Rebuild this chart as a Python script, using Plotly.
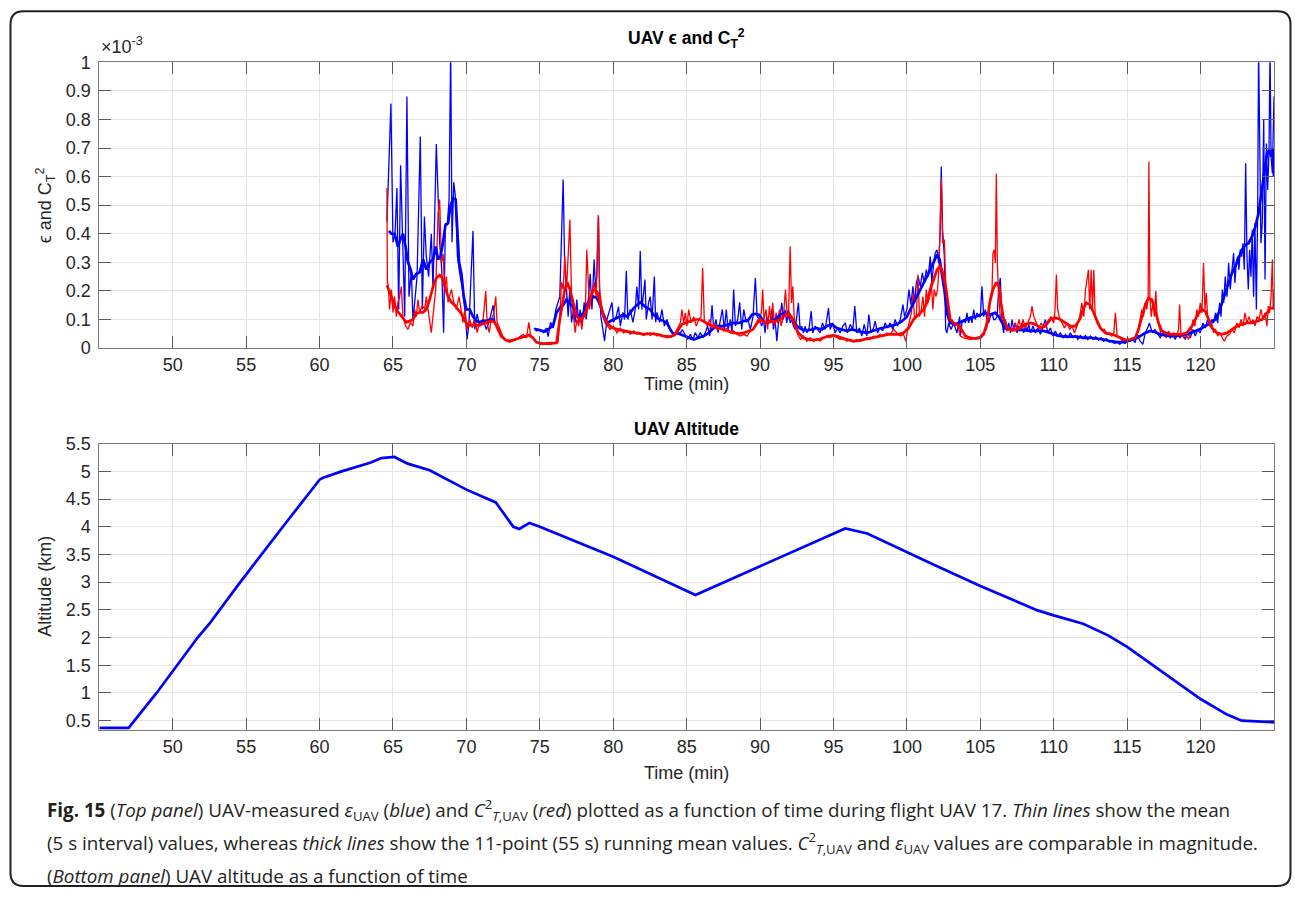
import plotly.graph_objects as go

# ---------------- data ----------------
# epsilon (blue), thin 5-s values, units of 1e-3
eps_thin_t = [64.59, 64.86, 65.0, 65.14, 65.27, 65.39, 65.52, 65.68, 65.8, 65.95, 66.09, 66.25, 66.36, 66.48, 66.64,
              66.86, 67.0, 67.14, 67.27, 67.43, 67.61, 67.73, 67.95, 68.07, 68.18, 68.32, 68.45, 68.57, 68.7, 68.82,
              68.93, 69.02, 69.14, 69.25, 69.39, 69.55, 69.73, 69.89, 70.05, 70.18, 70.45, 70.57, 70.73, 70.91, 71.14,
              71.36, 71.59, 71.82, 71.93, None,
              74.61, 74.77, 75.0, 75.23, 75.45, 75.57, 75.73, 75.91, 76.09, 76.25, 76.36, 76.59, 76.7, 76.82, 76.93,
              77.05, 77.16, 77.3, 77.41, 77.52, 77.64, 77.75, 77.86, 78.02, 78.16, 78.32, 78.43, 78.55, 78.7, 78.8,
              78.89, 79.0, 79.07, 79.16, 79.27, 79.41, 79.57, 79.75, 79.91, 80.02, 80.2, 80.36, 80.48, 80.66, 80.77,
              80.89, 81.0, 81.16, 81.34, 81.5, 81.61, 81.73, 81.84, 81.95, 82.07, 82.16, 82.25, 82.41, 82.52, 82.64,
              82.8, 82.89, 82.98, 83.16, 83.32, 83.48, 83.66, 83.84, 84.0, 84.16, 84.34, 84.52, 84.7, 84.91, 85.07,
              85.25, 85.43, 85.59, 85.75, 85.93, 86.11, 86.27, 86.43, 86.57, 86.73, 86.84, 87.0, 87.14, 87.3, 87.43,
              87.57, 87.7, 87.82, 87.98, 88.09, 88.2, 88.32, 88.48, 88.61, 88.75, 88.89, 89.05, 89.18, 89.34, 89.52,
              89.68, 89.8, 89.98, 90.11, 90.23, 90.34, 90.45, 90.57, 90.68, 90.8, 90.91, 91.02, 91.14, 91.25, 91.36,
              91.48, 91.59, 91.7, 91.82, 91.93, 92.05, 92.16, 92.27, 92.39, 92.5, 92.61, 92.73, 92.84, 92.95, 93.07,
              93.18, 93.34, 93.48, 93.59, 93.75, 93.91, 94.09, 94.25, 94.43, 94.66, 94.77, 94.95, 95.11, 95.27, 95.45,
              95.64, 95.8, 95.95, 96.14, 96.32, 96.45, 96.59, 96.77, 96.93, 97.09, 97.27, 97.41, 97.55, 97.73, 97.84,
              98.0, 98.18, 98.36, 98.52, 98.68, 98.86, 99.05, 99.2, 99.36, 99.55, 99.73, 99.84, 100.0, 100.14, 100.27,
              100.41, 100.52, 100.64, 100.77, 100.91, 101.05, 101.18, 101.32, 101.45, 101.59, 101.7, 101.82, 101.93,
              102.05, 102.16, 102.27, 102.34, 102.43, 102.55, 102.64, 102.73, 102.84, 103.0, 103.18, 103.41, 103.59,
              103.64, 103.75, 103.86, 103.98, 104.09, 104.2, 104.32, 104.43, 104.55, 104.66, 104.77, 104.89, 105.0,
              105.11, 105.23, 105.34, 105.45, 105.57, 105.68, 105.8, 105.91, 106.02, 106.14, 106.25, 106.36, 106.48,
              106.59, 106.7, 106.82, 106.93, 107.05, 107.16, 107.27, 107.39, 107.5, 107.61, 107.73, 107.84, 107.95,
              108.07, 108.18, 108.3, 108.41, 108.59, 108.75, 108.91, 109.09, 109.27, 109.43, 109.59, 109.77, 109.95,
              110.11, 110.27, 110.45, 110.64, 110.8, 110.95, 111.14, 111.32, 111.48, 111.64, 111.82, 112.0, 112.16,
              112.32, 112.5, 112.68, 112.86, 113.05, 113.23, 113.41, 113.59, 113.77, 113.95, 114.14, 114.32, 114.5,
              114.68, 114.86, 115.05, 115.2, 115.39, 115.55, 115.66, 115.77, 115.89, 116.07, 116.23, 116.39, 116.52,
              116.61, 116.75, 116.89, 117.05, 117.25, 117.43, 117.59, 117.75, 117.93, 118.11, 118.27, 118.43, 118.61,
              118.8, 118.95, 119.11, 119.3, 119.48, 119.64, 119.8, 119.98, 120.16, 120.32, 120.48, 120.61, 120.75,
              120.89, 121.02, 121.16, 121.3, 121.39, 121.48, 121.57, 121.68, 121.8, 121.91, 122.02, 122.14, 122.25,
              122.34, 122.43, 122.52, 122.61, 122.7, 122.8, 122.89, 122.98, 123.07, 123.16, 123.25, 123.34, 123.43,
              123.52, 123.61, 123.7, 123.8, 123.89, 123.95, 124.02, 124.11, 124.2, 124.3, 124.39, 124.48, 124.57,
              124.66, 124.73, 124.8, 124.89, 124.95, 125.0]
eps_thin_v = [0.443, 0.856, 0.37, 0.40, 0.56, 0.135, 0.64, 0.32, 0.11, 0.88, 0.18, 0.27, 0.10, 0.16, 0.25,
              0.74, 0.135, 0.46, 0.32, 0.25, 0.40, 0.205, 0.714, 0.54, 0.367, 0.275, 0.054, 0.437, 0.43, 0.52,
              1.05, 0.37, 0.58, 0.53, 0.32, 0.26, 0.205, 0.135, 0.03, 0.09, 0.41, 0.065, 0.12, 0.077, 0.10,
              0.065, 0.10, 0.15, 0.09, None,
              0.07, 0.06, 0.065, 0.054, 0.07, 0.04, 0.09, 0.07, 0.135, 0.16, 0.18, 0.59, 0.275, 0.205, 0.11,
              0.215, 0.09, 0.135, 0.09, 0.17, 0.09, 0.135, 0.077, 0.16, 0.10, 0.18, 0.26, 0.135, 0.31, 0.205,
              0.26, 0.46, 0.205, 0.11, 0.065, 0.025, 0.10, 0.135, 0.16, 0.09, 0.11, 0.145, 0.077, 0.125, 0.10,
              0.27, 0.10, 0.135, 0.09, 0.135, 0.215, 0.135, 0.34, 0.135, 0.205, 0.24, 0.10, 0.16, 0.18, 0.10,
              0.25, 0.09, 0.125, 0.09, 0.135, 0.077, 0.10, 0.065, 0.054, 0.042, 0.065, 0.048, 0.065, 0.042, 0.03,
              0.048, 0.03, 0.054, 0.036, 0.054, 0.036, 0.054, 0.077, 0.042, 0.15, 0.065, 0.10, 0.054, 0.10, 0.135,
              0.065, 0.135, 0.065, 0.10, 0.054, 0.205, 0.077, 0.10, 0.16, 0.065, 0.135, 0.09, 0.10, 0.065, 0.11,
              0.245, 0.11, 0.10, 0.077, 0.10, 0.053, 0.11, 0.088, 0.088, 0.135, 0.065, 0.10, 0.024, 0.088, 0.11,
              0.158, 0.10, 0.135, 0.088, 0.135, 0.088, 0.10, 0.077, 0.065, 0.11, 0.158, 0.065, 0.077, 0.053, 0.077,
              0.053, 0.07, 0.129, 0.053, 0.077, 0.065, 0.053, 0.088, 0.065, 0.14, 0.065, 0.088, 0.053, 0.07, 0.053,
              0.077, 0.088, 0.053, 0.083, 0.065, 0.147, 0.053, 0.07, 0.042, 0.083, 0.042, 0.117, 0.053, 0.07, 0.094,
              0.053, 0.07, 0.06, 0.088, 0.07, 0.088, 0.065, 0.10, 0.077, 0.10, 0.152, 0.11, 0.135, 0.205, 0.152,
              0.216, 0.158, 0.228, 0.25, 0.216, 0.263, 0.228, 0.274, 0.25, 0.32, 0.228, 0.298, 0.332,
              0.344, 0.298, 0.414, 0.635, 0.414, 0.32, 0.065, 0.053, 0.088, 0.065, 0.088, 0.053, 0.11,
              0.042, 0.088, 0.10, 0.088, 0.123, 0.088, 0.11, 0.088, 0.135, 0.10, 0.123, 0.11, 0.11,
              0.216, 0.11, 0.135, 0.10, 0.088, 0.11, 0.123, 0.10, 0.10, 0.11, 0.205, 0.245, 0.088,
              0.053, 0.10, 0.065, 0.088, 0.053, 0.10, 0.065, 0.088, 0.053, 0.077, 0.06, 0.088, 0.053,
              0.077, 0.06, 0.083, 0.053, 0.077, 0.053, 0.07, 0.048, 0.077, 0.10, 0.053, 0.07, 0.042,
              0.06, 0.042, 0.053, 0.036, 0.048, 0.036, 0.053, 0.036, 0.044, 0.03, 0.044, 0.033, 0.044,
              0.03, 0.042, 0.03, 0.04, 0.028, 0.036, 0.024, 0.033, 0.021, 0.024, 0.016, 0.021, 0.013,
              0.024, 0.016, 0.024, 0.024, 0.03, 0.019, 0.053, 0.036, 0.024, 0.013, 0.053, 0.07, 0.088,
              0.07, 0.053, 0.065, 0.053, 0.036, 0.053, 0.042, 0.053, 0.036, 0.048, 0.03, 0.048, 0.036,
              0.053, 0.03, 0.053, 0.036, 0.065, 0.042, 0.065, 0.053, 0.088, 0.07, 0.10, 0.077, 0.10,
              0.088, 0.123, 0.088, 0.158, 0.11, 0.205, 0.158, 0.25, 0.18, 0.298, 0.205, 0.274, 0.332,
              0.228, 0.298, 0.32, 0.274, 0.344, 0.32, 0.367, 0.274, 0.647, 0.32, 0.205, 0.344, 0.25,
              0.414, 0.18, 0.437, 0.135, 0.495, 1.05, 0.67, 0.367, 0.437, 0.80, 0.24, 0.716, 0.553,
              0.693, 1.05, 0.67, 0.612, 0.786, 0.88]

# epsilon (blue), thick 11-point running mean
eps_mean_t = [64.73, 64.89, 65.11, 65.34, 65.5, 65.68, 65.86, 66.02, 66.2, 66.36, 66.59, 66.82, 67.05, 67.27, 67.5,
              67.73, 67.91, 68.07, 68.23, 68.41, 68.57, 68.75, 68.91, 69.09, 69.27, 69.39, 69.5, 69.66, 69.82, 70.0,
              70.23, 70.45, 70.68, 70.91, 71.14, 71.36, 71.59, 71.82, 71.93, None,
              74.66, 75.0, 75.34, 75.68, 75.91, 76.14, 76.36, 76.59, 76.82, 77.05, 77.27, 77.52, 77.75, 77.98, 78.2,
              78.43, 78.66, 78.89, 79.11, 79.34, 79.57, 79.8, 80.02, 80.25, 80.48, 80.7, 80.93, 81.16, 81.39, 81.61,
              81.84, 82.07, 82.3, 82.52, 82.75, 82.98, 83.2, 83.43, 83.66, 83.89, 84.11, 84.34, 84.57, 84.8, 85.14,
              85.48, 85.82, 86.16, 86.5, 86.84, 87.18, 87.52, 87.86, 88.2, 88.55, 88.89, 89.23, 89.45, 89.68, 89.91,
              90.34, 90.68, 91.02, 91.36, 91.7, 91.93, 92.16, 92.5, 92.84, 93.18, 93.52, 93.86, 94.2, 94.55, 94.89,
              95.23, 95.57, 95.91, 96.25, 96.59, 96.93, 97.27, 97.61, 97.95, 98.3, 98.64, 98.98, 99.32, 99.66, 100.0,
              100.34, 100.68, 101.02, 101.36, 101.59, 101.82, 102.05, 102.23, 102.39, 102.55, 102.73, 102.95, 103.3,
              103.59, 103.98, 104.32, 104.66, 105.0, 105.34, 105.68, 106.02, 106.25, 106.48, 106.7, 107.05, 107.5,
              107.95, 108.41, 108.86, 109.32, 109.77, 110.23, 110.68, 111.14, 111.59, 112.05, 112.5, 112.95, 113.41,
              113.86, 114.32, 114.77, 115.2, 115.55, 115.89, 116.23, 116.57, 116.89, 117.25, 117.59, 117.93, 118.27,
              118.61, 118.95, 119.3, 119.64, 119.98, 120.32, 120.66, 121.0, 121.23, 121.45, 121.68, 121.91, 122.14,
              122.36, 122.59, 122.82, 123.05, 123.27, 123.5, 123.73, 123.95, 124.11, 124.25, 124.39, 124.52, 124.66,
              124.8, 124.93, 125.0]
eps_mean_v = [0.41, 0.40, 0.40, 0.355, 0.38, 0.40, 0.355, 0.30, 0.275, 0.24, 0.26, 0.265, 0.31, 0.275, 0.30,
              0.31, 0.355, 0.31, 0.32, 0.37, 0.43, 0.437, 0.495, 0.524, 0.52, 0.41, 0.30, 0.26, 0.18, 0.135,
              0.135, 0.11, 0.095, 0.09, 0.095, 0.095, 0.10, 0.10, 0.095, None,
              0.067, 0.063, 0.058, 0.07, 0.08, 0.125, 0.14, 0.15, 0.17, 0.155, 0.145, 0.117, 0.11, 0.123, 0.15,
              0.17, 0.18, 0.175, 0.15, 0.117, 0.088, 0.094, 0.10, 0.106, 0.11, 0.117, 0.11, 0.123, 0.14, 0.15,
              0.16, 0.15, 0.14, 0.135, 0.117, 0.106, 0.10, 0.094, 0.088, 0.065, 0.048, 0.053, 0.048, 0.042, 0.036,
              0.03, 0.036, 0.042, 0.053, 0.07, 0.077, 0.077, 0.083, 0.088, 0.088, 0.094, 0.10, 0.117, 0.12, 0.117,
              0.088, 0.094, 0.10, 0.117, 0.123, 0.123, 0.106, 0.077, 0.065, 0.062, 0.065, 0.07, 0.065, 0.077, 0.083,
              0.07, 0.065, 0.06, 0.065, 0.06, 0.056, 0.053, 0.06, 0.065, 0.07, 0.074, 0.077, 0.083, 0.094, 0.11,
              0.147, 0.18, 0.216, 0.25, 0.274, 0.303, 0.327, 0.31, 0.263, 0.205, 0.123, 0.088, 0.083,
              0.09, 0.10, 0.106, 0.11, 0.117, 0.123, 0.117, 0.123, 0.11, 0.088, 0.07, 0.065, 0.065,
              0.063, 0.06, 0.06, 0.06, 0.053, 0.044, 0.04, 0.04, 0.04, 0.036, 0.036, 0.033, 0.03,
              0.024, 0.021, 0.021, 0.028, 0.033, 0.042, 0.053, 0.06, 0.056, 0.048, 0.044, 0.042, 0.042,
              0.044, 0.048, 0.053, 0.06, 0.067, 0.077, 0.088, 0.10, 0.123, 0.158, 0.193, 0.228, 0.263,
              0.286, 0.315, 0.344, 0.36, 0.367, 0.39, 0.425, 0.472, 0.53, 0.588, 0.647, 0.68, 0.693,
              0.67, 0.70, 0.60]

# C_T^2 (red), thin 5-s values, units of 1e-3
ct2_thin_t = [64.59, 64.62, 64.68, 64.77, 64.89, 65.0, 65.11, 65.23, 65.34, 65.45, 65.57, 65.68, 65.86, 66.02, 66.18,
              66.36, 66.48, 66.59, 66.7, 66.82, 67.0, 67.16, 67.27, 67.45, 67.61, 67.77, 67.91, 68.07, 68.18, 68.3,
              68.41, 68.52, 68.64, 68.75, 68.86, 68.98, 69.14, 69.32, 69.5, 69.66, 69.77, 69.89, 70.05, 70.23, 70.41,
              70.57, 70.73, 70.91, 71.14, 71.32, 71.41, 71.55, 71.7, 71.86, 72.0, 72.09, 72.27, 72.5, 72.73, 72.95,
              73.18, 73.41, 73.64, 73.86, 74.09, 74.25, 74.36, 74.55, 74.77, 75.0, 75.34, 75.68, 76.02, 76.25, 76.36,
              76.48, 76.59, 76.7, 76.82, 76.93, 77.05, 77.16, 77.3, 77.41, 77.52, 77.64, 77.75, 77.86, 77.98, 78.09,
              78.2, 78.3, 78.39, 78.5, 78.61, 78.7, 78.84, 78.98, 79.07, 79.16, 79.3, 79.45, 79.61, 79.8, 80.02,
              80.25, 80.48, 80.7, 80.93, 81.16, 81.39, 81.61, 81.84, 82.07, 82.3, 82.52, 82.75, 82.98, 83.2, 83.43,
              83.66, 83.89, 84.11, 84.34, 84.57, 84.68, 84.8, 84.91, 85.02, 85.14, 85.3, 85.48, 85.66, 85.82, 85.98,
              86.09, 86.2, 86.39, 86.57, 86.73, 86.89, 87.07, 87.3, 87.52, 87.75, 87.98, 88.2, 88.43, 88.66, 88.89,
              89.11, 89.34, 89.52, 89.68, 89.84, 89.98, 90.11, 90.18, 90.27, 90.41, 90.52, 90.64, 90.75, 90.86, 90.98,
              91.09, 91.2, 91.32, 91.43, 91.59, 91.73, 91.82, 91.93, 92.05, 92.14, 92.23, 92.32, 92.45, 92.61, 92.77,
              92.95, 93.18, 93.41, 93.64, 93.86, 94.09, 94.32, 94.55, 94.77, 95.0, 95.23, 95.45, 95.68, 95.91, 96.14,
              96.36, 96.59, 96.82, 97.05, 97.27, 97.5, 97.73, 97.95, 98.18, 98.41, 98.64, 98.86, 99.09, 99.32, 99.55,
              99.77, 99.93, 100.05, 100.18, 100.3, 100.41, 100.52, 100.64, 100.75, 100.86, 100.98, 101.09, 101.2,
              101.32, 101.43, 101.55, 101.66, 101.77, 101.86, 101.98, 102.09, 102.2, 102.34, 102.43, 102.55, 102.64,
              102.77, 102.91, 103.07, 103.23, 103.41, 103.64, 103.86, 104.09, 104.32, 104.55, 104.77, 105.0, 105.23,
              105.41, 105.57, 105.68, 105.8, 105.86, 105.95, 106.02, 106.09, 106.16, 106.25, 106.36, 106.48, 106.64,
              106.82, 107.0, 107.18, 107.36, 107.5, 107.64, 107.77, 107.91, 108.07, 108.23, 108.41, 108.52, 108.64,
              108.82, 108.98, 109.14, 109.32, 109.5, 109.66, 109.82, 110.0, 110.09, 110.18, 110.27, 110.41, 110.57,
              110.73, 110.91, 111.09, 111.25, 111.41, 111.59, 111.77, 111.91, 112.05, 112.16, 112.27, 112.36, 112.45,
              112.55, 112.64, 112.73, 112.82, 112.95, 113.14, 113.3, 113.45, 113.64, 113.82, 113.95, 114.09, 114.2,
              114.32, 114.5, 114.68, 114.86, 115.05, 115.2, 115.43, 115.66, 115.84, 116.0, 116.11, 116.23, 116.34,
              116.43, 116.48, 116.55, 116.64, 116.75, 116.86, 116.95, 117.05, 117.2, 117.34, 117.48, 117.66, 117.82,
              117.98, 118.16, 118.34, 118.5, 118.57, 118.66, 118.84, 119.02, 119.18, 119.34, 119.48, 119.61, 119.75,
              119.86, 119.98, 120.09, 120.2, 120.3, 120.39, 120.48, 120.61, 120.75, 120.89, 121.02, 121.16, 121.3,
              121.45, 121.61, 121.8, 121.98, 122.14, 122.3, 122.48, 122.61, 122.75, 122.89, 123.02, 123.16, 123.3,
              123.43, 123.57, 123.7, 123.84, 123.98, 124.11, 124.25, 124.39, 124.52, 124.61, 124.7, 124.8, 124.89,
              124.95, 125.0]
ct2_thin_v = [0.56, 0.23, 0.22, 0.135, 0.205, 0.125, 0.18, 0.11, 0.16, 0.18, 0.215, 0.11, 0.077, 0.065, 0.09,
              0.077, 0.135, 0.11, 0.17, 0.125, 0.15, 0.135, 0.18, 0.11, 0.054, 0.135, 0.205, 0.47, 0.52, 0.30,
              0.33, 0.205, 0.25, 0.16, 0.18, 0.205, 0.16, 0.135, 0.18, 0.125, 0.09, 0.135, 0.065, 0.10, 0.07,
              0.11, 0.054, 0.09, 0.10, 0.20, 0.09, 0.054, 0.10, 0.12, 0.18, 0.09, 0.065, 0.04, 0.025, 0.02,
              0.025, 0.03, 0.04, 0.048, 0.035, 0.09, 0.048, 0.035, 0.02, 0.013, 0.013, 0.013, 0.016, 0.02, 0.11,
              0.23, 0.205, 0.32, 0.205, 0.35, 0.45, 0.18, 0.11, 0.054, 0.10, 0.077, 0.11, 0.065, 0.123, 0.11,
              0.344, 0.205, 0.135, 0.18, 0.205, 0.23, 0.18, 0.466, 0.205, 0.158, 0.11, 0.088, 0.077, 0.065, 0.077,
              0.053, 0.07, 0.053, 0.06, 0.048, 0.06, 0.048, 0.053, 0.044, 0.053, 0.044, 0.053, 0.042, 0.048, 0.042,
              0.036, 0.038, 0.042, 0.065, 0.088, 0.135, 0.088, 0.123, 0.077, 0.135, 0.088, 0.11, 0.077, 0.10, 0.11,
              0.28, 0.10, 0.077, 0.10, 0.065, 0.088, 0.065, 0.077, 0.06, 0.07, 0.053, 0.06, 0.048, 0.042, 0.048,
              0.042, 0.06, 0.065, 0.077, 0.10, 0.088, 0.135, 0.205, 0.10, 0.135, 0.065, 0.147, 0.088, 0.158, 0.077,
              0.123, 0.088, 0.135, 0.077, 0.11, 0.205, 0.135, 0.10, 0.356, 0.158, 0.216, 0.11, 0.065, 0.042, 0.03,
              0.042, 0.024, 0.036, 0.024, 0.033, 0.024, 0.036, 0.042, 0.036, 0.044, 0.036, 0.03, 0.036, 0.024, 0.03,
              0.021, 0.03, 0.024, 0.03, 0.036, 0.03, 0.042, 0.036, 0.048, 0.042, 0.053, 0.048, 0.065, 0.053, 0.042,
              0.048, 0.024, 0.065, 0.10, 0.123, 0.193, 0.10, 0.11, 0.257, 0.11, 0.135, 0.18, 0.11,
              0.205, 0.158, 0.18, 0.228, 0.135, 0.205, 0.18, 0.205, 0.298, 0.594, 0.367, 0.38, 0.228,
              0.11, 0.088, 0.10, 0.077, 0.088, 0.042, 0.036, 0.033, 0.03, 0.033, 0.036, 0.042, 0.053,
              0.065, 0.10, 0.18, 0.205, 0.332, 0.344, 0.298, 0.61, 0.298, 0.18, 0.11, 0.088, 0.077,
              0.06, 0.07, 0.06, 0.088, 0.07, 0.10, 0.065, 0.10, 0.07, 0.088, 0.11, 0.147, 0.11,
              0.088, 0.07, 0.088, 0.07, 0.088, 0.10, 0.11, 0.088, 0.135, 0.257, 0.135, 0.10, 0.088,
              0.07, 0.088, 0.065, 0.077, 0.053, 0.077, 0.11, 0.158, 0.11, 0.205, 0.24, 0.274, 0.135,
              0.274, 0.135, 0.274, 0.11, 0.088, 0.07, 0.06, 0.065, 0.048, 0.053, 0.042, 0.053, 0.123,
              0.042, 0.036, 0.024, 0.03, 0.024, 0.024, 0.03, 0.042, 0.088, 0.135, 0.11, 0.158, 0.135,
              0.18, 0.652, 0.18, 0.11, 0.158, 0.11, 0.20, 0.10, 0.065, 0.042, 0.053, 0.036, 0.06,
              0.042, 0.053, 0.036, 0.065, 0.152, 0.053, 0.036, 0.048, 0.03, 0.053, 0.10, 0.077, 0.135,
              0.11, 0.158, 0.123, 0.298, 0.135, 0.193, 0.11, 0.077, 0.088, 0.053, 0.065, 0.042, 0.053,
              0.036, 0.024, 0.042, 0.048, 0.065, 0.053, 0.088, 0.07, 0.10, 0.077, 0.123, 0.088, 0.11,
              0.088, 0.10, 0.077, 0.11, 0.10, 0.135, 0.10, 0.123, 0.077, 0.147, 0.123, 0.18, 0.31,
              0.135, 0.205]

# C_T^2 (red), thick 11-point running mean
ct2_mean_t = [64.59, 64.77, 65.0, 65.23, 65.45, 65.68, 65.91, 66.14, 66.36, 66.59, 66.82, 67.05, 67.27, 67.5, 67.73,
              67.95, 68.18, 68.36, 68.52, 68.75, 68.98, 69.2, 69.43, 69.66, 69.89, 70.11, 70.45, 70.91, 71.36, 71.7,
              71.93, 72.16, 72.39, 72.68, 72.95, 73.3, 73.64, 73.98, 74.27, 74.55, 74.77, 75.23, 75.68, 76.14, 76.36,
              76.55, 76.7, 76.86, 77.05, 77.27, 77.52, 77.75, 77.98, 78.2, 78.43, 78.61, 78.77, 78.93, 79.11, 79.34,
              79.57, 79.8, 80.14, 80.48, 80.82, 81.16, 81.61, 82.07, 82.52, 82.98, 83.43, 83.89, 84.23, 84.45, 84.68,
              84.91, 85.25, 85.59, 85.93, 86.16, 86.5, 86.84, 87.18, 87.52, 87.86, 88.2, 88.55, 88.89, 89.23, 89.52,
              89.8, 90.02, 90.34, 90.68, 91.02, 91.36, 91.7, 91.93, 92.16, 92.39, 92.61, 92.95, 93.3, 93.64, 93.98,
              94.32, 94.66, 95.0, 95.34, 95.68, 96.02, 96.36, 96.7, 97.05, 97.39, 97.73, 98.07, 98.41, 98.75, 99.09,
              99.43, 99.77, 100.11, 100.45, 100.8, 101.14, 101.36, 101.59, 101.82, 102.05, 102.27, 102.45, 102.64,
              102.77, 102.95, 103.18, 103.59, 103.98, 104.32, 104.66, 105.0, 105.23, 105.45, 105.64, 105.86, 106.09,
              106.27, 106.41, 106.59, 106.82, 107.05, 107.39, 107.73, 108.07, 108.41, 108.75, 109.09, 109.43, 109.77,
              110.11, 110.45, 110.8, 111.14, 111.48, 111.77, 112.0, 112.23, 112.45, 112.68, 112.91, 113.18, 113.52,
              113.86, 114.2, 114.55, 114.89, 115.2, 115.55, 115.77, 116.0, 116.23, 116.45, 116.68, 116.89, 117.14,
              117.36, 117.7, 118.05, 118.39, 118.73, 119.07, 119.41, 119.64, 119.86, 120.09, 120.32, 120.55, 120.77,
              121.11, 121.45, 121.8, 122.14, 122.48, 122.82, 123.16, 123.5, 123.84, 124.18, 124.52, 124.75, 125.0]
ct2_mean_v = [0.22, 0.195, 0.16, 0.135, 0.12, 0.105, 0.09, 0.095, 0.10, 0.12, 0.125, 0.125, 0.135, 0.17, 0.215,
              0.245, 0.255, 0.245, 0.215, 0.18, 0.16, 0.15, 0.135, 0.12, 0.095, 0.08, 0.08, 0.08, 0.09, 0.095,
              0.09, 0.065, 0.04, 0.028, 0.025, 0.03, 0.035, 0.04, 0.045, 0.035, 0.02, 0.016, 0.016, 0.018, 0.10,
              0.16, 0.205, 0.23, 0.205, 0.16, 0.11, 0.10, 0.11, 0.135, 0.17, 0.20, 0.205, 0.193, 0.158, 0.11,
              0.088, 0.077, 0.067, 0.063, 0.06, 0.056, 0.053, 0.048, 0.051, 0.048, 0.042, 0.04, 0.048, 0.065, 0.083,
              0.088, 0.094, 0.10, 0.10, 0.094, 0.083, 0.074, 0.07, 0.065, 0.06, 0.053, 0.051, 0.053, 0.06, 0.065,
              0.088, 0.10, 0.088, 0.094, 0.094, 0.10, 0.117, 0.123, 0.106, 0.077, 0.053, 0.036, 0.03, 0.028, 0.03,
              0.036, 0.042, 0.044, 0.04, 0.033, 0.028, 0.024, 0.026, 0.03, 0.033, 0.036, 0.042, 0.044, 0.048, 0.048,
              0.048, 0.053, 0.07, 0.10, 0.117, 0.135, 0.158, 0.205, 0.24, 0.274, 0.286, 0.263, 0.216,
              0.158, 0.10, 0.088, 0.077, 0.042, 0.036, 0.033, 0.036, 0.048, 0.088, 0.158, 0.205, 0.23,
              0.216, 0.158, 0.10, 0.07, 0.063, 0.063, 0.07, 0.083, 0.088, 0.083, 0.07, 0.077, 0.10,
              0.106, 0.10, 0.088, 0.077, 0.077, 0.10, 0.135, 0.158, 0.152, 0.129, 0.10, 0.07, 0.053,
              0.048, 0.044, 0.036, 0.028, 0.03, 0.036, 0.065, 0.11, 0.152, 0.175, 0.17, 0.135, 0.088,
              0.06, 0.051, 0.048, 0.048, 0.048, 0.053, 0.077, 0.10, 0.123, 0.135, 0.129, 0.10, 0.07,
              0.053, 0.048, 0.053, 0.065, 0.077, 0.083, 0.088, 0.088, 0.094, 0.10, 0.123, 0.14, 0.14]

# UAV altitude (km)
alt_t = [45.0, 47.0, 48.9, 51.7, 52.5, 53.2, 54.6, 57.5, 59.0, 60.0, 60.2, 61.5, 63.5, 64.2, 65.1, 66.0, 67.5, 70.0,
         72.0, 72.8, 73.2, 73.6, 74.3, 75.0, 80.0, 85.6, 95.8, 97.3, 100.0, 101.8, 105.0, 108.9, 110.0, 112.0, 113.7,
         115.0, 120.0, 121.8, 122.8, 125.0]
alt_km = [0.37, 0.37, 1.0, 2.0, 2.25, 2.5, 3.0, 4.0, 4.5, 4.85, 4.88, 5.0, 5.16, 5.24, 5.26, 5.14, 5.02, 4.67,
          4.44, 4.16, 4.0, 3.96, 4.07, 4.0, 3.46, 2.77, 3.97, 3.88, 3.54, 3.32, 2.93, 2.49, 2.40, 2.25, 2.04,
          1.83, 0.89, 0.61, 0.50, 0.47]

x_ticks = [50, 55, 60, 65, 70, 75, 80, 85, 90, 95, 100, 105, 110, 115, 120]
top_y_ticks = [0, 0.1, 0.2, 0.3, 0.4, 0.5, 0.6, 0.7, 0.8, 0.9, 1.0]
top_y_labels = ["0", "0.1", "0.2", "0.3", "0.4", "0.5", "0.6", "0.7", "0.8", "0.9", "1"]
alt_y_ticks = [0.5, 1, 1.5, 2, 2.5, 3, 3.5, 4, 4.5, 5, 5.5]
alt_y_labels = ["0.5", "1", "1.5", "2", "2.5", "3", "3.5", "4", "4.5", "5", "5.5"]

# ---------------- layout helpers ----------------
W, H = 1295, 897
# the captured page shows the figure slightly offset / compressed vertically; compensate
V_OFF, V_SC = 8.66, 0.9785
def px(x):
    return x / W
def py(y):
    return 1 - ((y - V_OFF) / V_SC) / H

BLUE = "#0000ff"
RED = "#ff0000"
AX_FONT = dict(family="Liberation Sans, Arial, sans-serif", size=18, color="#262626")

fig = go.Figure()
fig.add_trace(go.Scatter(x=eps_thin_t, y=eps_thin_v, mode="lines", line=dict(color=BLUE, width=1.3),
                         connectgaps=False, xaxis="x", yaxis="y", showlegend=False))
fig.add_trace(go.Scatter(x=ct2_thin_t, y=ct2_thin_v, mode="lines", line=dict(color=RED, width=1.3),
                         xaxis="x", yaxis="y", showlegend=False))
fig.add_trace(go.Scatter(x=eps_mean_t, y=eps_mean_v, mode="lines", line=dict(color=BLUE, width=2.7),
                         connectgaps=False, xaxis="x", yaxis="y", showlegend=False))
fig.add_trace(go.Scatter(x=ct2_mean_t, y=ct2_mean_v, mode="lines", line=dict(color=RED, width=2.7),
                         xaxis="x", yaxis="y", showlegend=False))
fig.add_trace(go.Scatter(x=alt_t, y=alt_km, mode="lines", line=dict(color=BLUE, width=2.7),
                         xaxis="x2", yaxis="y2", showlegend=False))

common_axis = dict(showline=True, linecolor="#7a7a7a", linewidth=1, mirror="ticks",
                   ticks="inside", ticklen=12, tickwidth=1, tickcolor="#5a5a5a",
                   showgrid=True, gridcolor="#e4e4e4", gridwidth=1, zeroline=False,
                   tickfont=AX_FONT)

top_x0, top_x1 = 99.3, 1274.0
top_y0, top_y1 = 61.0, 347.0
bot_y0, bot_y1 = 442.7, 729.3

fig.update_layout(
    width=W, height=H,
    margin=dict(l=0, r=0, t=0, b=0),
    paper_bgcolor="white", plot_bgcolor="white",
    xaxis=dict(domain=[px(top_x0), px(top_x1)], range=[45, 125], tickvals=x_ticks,
               anchor="y", ticklabelstandoff=0, **common_axis),
    yaxis=dict(domain=[py(top_y1), py(top_y0)], range=[0, 1.0], tickvals=top_y_ticks,
               ticktext=top_y_labels, anchor="x", ticklabelstandoff=4, **common_axis),
    xaxis2=dict(domain=[px(top_x0), px(top_x1)], range=[45, 125], tickvals=x_ticks,
                anchor="y2", ticklabelstandoff=0, **common_axis),
    yaxis2=dict(domain=[py(bot_y1), py(bot_y0)], range=[0.33, 5.5], tickvals=alt_y_ticks,
                ticktext=alt_y_labels, anchor="x2", ticklabelstandoff=4, **common_axis),
)

mid_x = px((top_x0 + top_x1) / 2)
TITLE_FONT = dict(family="Liberation Sans, Arial, sans-serif", size=17.5, color="#000000")
ann = []
ann.append(dict(text="<b>UAV \u03f5 and C<sub>T</sub><sup>2</sup></b>", x=mid_x, y=py(37), xref="paper",
                yref="paper", xanchor="center", yanchor="middle", showarrow=False, font=TITLE_FONT))
ann.append(dict(text="<b>UAV Altitude</b>", x=mid_x, y=py(428), xref="paper", yref="paper",
                xanchor="center", yanchor="middle", showarrow=False, font=TITLE_FONT))
ann.append(dict(text="\u00d710<sup>-3</sup>", x=px(99), y=py(58), xref="paper", yref="paper",
                xanchor="left", yanchor="bottom", showarrow=False, font=AX_FONT))
ann.append(dict(text="Time (min)", x=mid_x, y=py(383), xref="paper", yref="paper",
                xanchor="center", yanchor="middle", showarrow=False, font=AX_FONT))
ann.append(dict(text="Time (min)", x=mid_x, y=py(772), xref="paper", yref="paper",
                xanchor="center", yanchor="middle", showarrow=False, font=AX_FONT))
ann.append(dict(text="\u03f5 and C<sub>T</sub><sup>2</sup>", x=px(45), y=py((top_y0 + top_y1) / 2),
                xref="paper", yref="paper", xanchor="center", yanchor="middle", textangle=-90,
                showarrow=False, font=AX_FONT))
ann.append(dict(text="Altitude (km)", x=px(45), y=py((bot_y0 + bot_y1) / 2),
                xref="paper", yref="paper", xanchor="center", yanchor="middle", textangle=-90,
                showarrow=False, font=AX_FONT))

CAP_FONT = dict(family="Open Sans, Noto Sans, sans-serif", size=18.8, color="#231f20")
cap_lines = [
    "<b>Fig. 15</b> (<i>Top panel</i>) UAV-measured <i>\u03b5</i><sub>UAV</sub> (<i>blue</i>) and "
    "<i>C</i><sup>2</sup><sub><i>T</i>,UAV</sub> (<i>red</i>) plotted as a function of time during flight UAV 17. "
    "<i>Thin lines</i> show the mean",
    "(5 s interval) values, whereas <i>thick lines</i> show the 11-point (55 s) running mean values. "
    "<i>C</i><sup>2</sup><sub><i>T</i>,UAV</sub> and <i>\u03b5</i><sub>UAV</sub> values are comparable in magnitude.",
    "(<i>Bottom panel</i>) UAV altitude as a function of time",
]
for i, line in enumerate(cap_lines):
    ann.append(dict(text=line, x=px(45), y=py(809 + 33 * i), xref="paper", yref="paper",
                    xanchor="left", yanchor="middle", showarrow=False, font=CAP_FONT))
fig.update_layout(annotations=ann)

# rounded frame around the figure (kept inside the visible capture area)
bx0, by0, bx1, by1, r = 10.5, 9.8, 1290.5, 885.3, 13
path = (f"M {px(bx0 + r)},{py(by0)} L {px(bx1 - r)},{py(by0)} Q {px(bx1)},{py(by0)} {px(bx1)},{py(by0 + r)} "
        f"L {px(bx1)},{py(by1 - r)} Q {px(bx1)},{py(by1)} {px(bx1 - r)},{py(by1)} "
        f"L {px(bx0 + r)},{py(by1)} Q {px(bx0)},{py(by1)} {px(bx0)},{py(by1 - r)} "
        f"L {px(bx0)},{py(by0 + r)} Q {px(bx0)},{py(by0)} {px(bx0 + r)},{py(by0)} Z")
fig.add_shape(type="path", path=path, xref="paper", yref="paper", line=dict(color="#231f20", width=2))

fig.write_html("out.html")
